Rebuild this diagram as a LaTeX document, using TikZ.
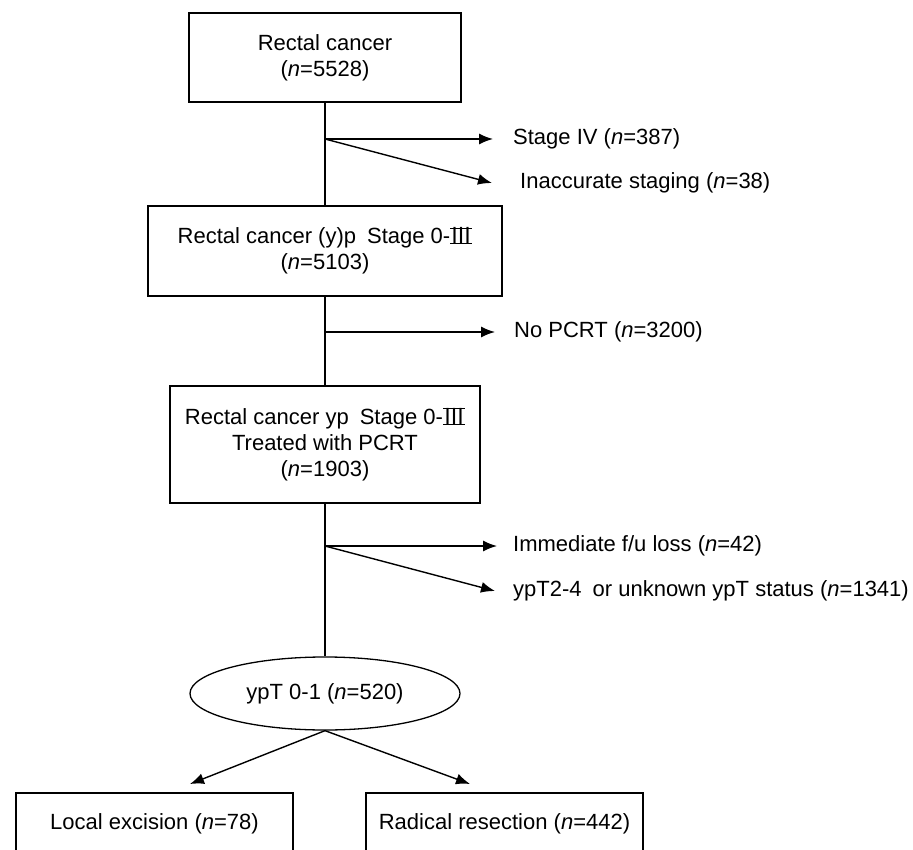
\documentclass[tikz,border=0pt]{standalone}
\usepackage{fontspec}
\setmainfont{Liberation Sans}
\newfontfamily\cjk{Noto Sans CJK SC}
\usetikzlibrary{arrows.meta,shapes.geometric}
\newcommand\RomIII{\setbox0\hbox{\cjk Ⅲ}%
  \rlap{\rule[-0.3pt]{\wd0}{1.1pt}}%
  \rlap{\rule[\dimexpr\ht0-0.8pt\relax]{\wd0}{1.1pt}}\box0}
\begin{document}
\begin{tikzpicture}[x=1pt,y=-1pt,
  font=\fontsize{22}{26}\selectfont,
  box/.style={draw=black,line width=1.3pt,align=center,inner sep=0pt},
  lab/.style={anchor=west,inner sep=0pt,inner xsep=20pt},
  conn/.style={line width=1.4pt},
  arr/.style={line width=1.4pt,-{Latex[length=14pt,width=11pt]}}]
\useasboundingbox (0,0) rectangle (913,850);
\clip (0,0) rectangle (913,850);
% main boxes
\node[box,minimum width=272pt,minimum height=89pt] (b1) at (325,57.5)
  {Rectal cancer\\(\textit{n}=5528)};
\node[box,minimum width=354pt,minimum height=90pt] (b2) at (325,251)
  {Rectal cancer (y)p\enspace Stage 0-\RomIII\\(\textit{n}=5103)};
\node[box,minimum width=310pt,minimum height=117pt] (b3) at (325,444.5)
  {Rectal cancer yp\enspace Stage 0-\RomIII\\Treated with PCRT\\(\textit{n}=1903)};
\node[box,ellipse,minimum width=270pt,minimum height=73pt] (el) at (325,693.5)
  {ypT 0-1 (\textit{n}=520)};
\node[box,minimum width=277pt,minimum height=62pt] (le) at (154.5,824)
  {Local excision (\textit{n}=78)};
\node[box,minimum width=277pt,minimum height=62pt] (rr) at (504.5,824)
  {Radical resection (\textit{n}=442)};
% junctions
\coordinate (j1) at (325,139);
\coordinate (j2) at (325,332);
\coordinate (j3) at (325,546);
\coordinate (t1) at (190,784);
\coordinate (t2) at (470,784);
% side labels
\node[lab] (s4) at (493,139) {Stage IV (\textit{n}=387)};
\node[lab,inner xsep=28pt] (ia) at (492,183) {Inaccurate staging (\textit{n}=38)};
\node[lab,inner xsep=19pt] (np) at (495,332) {No PCRT (\textit{n}=3200)};
\node[lab,inner xsep=16pt] (im) at (497,546) {Immediate f/u loss (\textit{n}=42)};
\node[lab,inner xsep=18pt] (yp) at (495,591) {ypT2-4\enspace or unknown ypT status (\textit{n}=1341)};
% connectors
\draw[conn] (b1.south) -- (b2.north);
\draw[conn] (b2.south) -- (b3.north);
\draw[conn] (b3.south) -- (el.north);
\draw[arr] (j1) -- (s4.west);
\draw[arr] (j1) -- (ia.west);
\draw[arr] (j2) -- (np.west);
\draw[arr] (j3) -- (im.west);
\draw[arr] (j3) -- (yp.west);
\draw[arr] (el.south) -- (t1);
\draw[arr] (el.south) -- (t2);
\end{tikzpicture}
\end{document}
